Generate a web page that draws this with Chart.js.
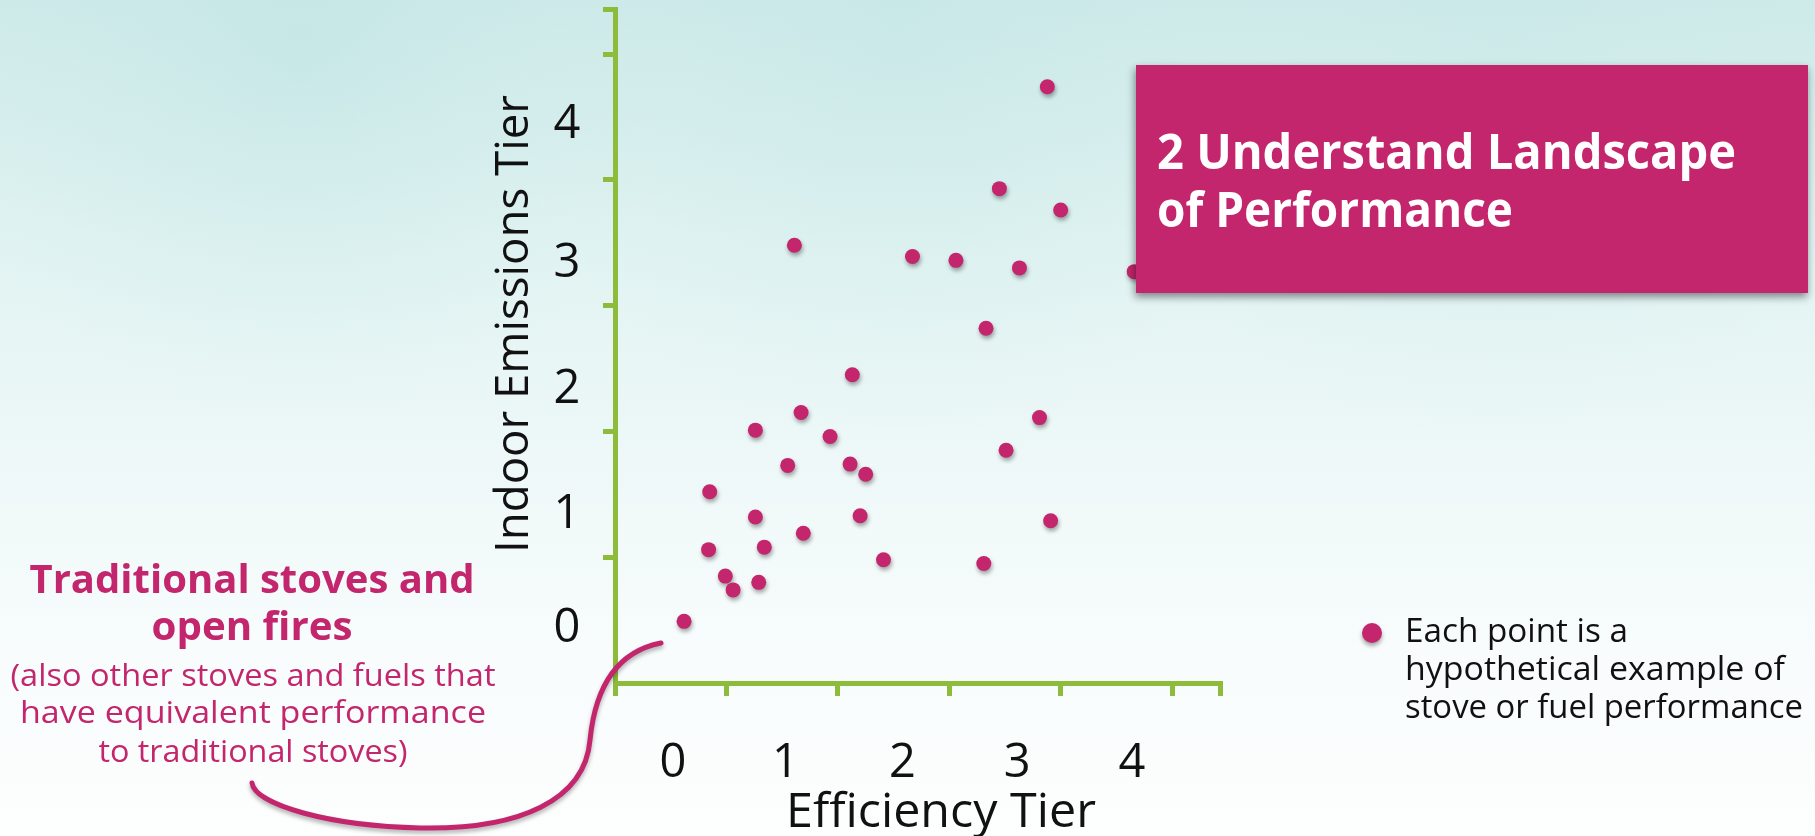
<!DOCTYPE html>
<html>
<head>
<meta charset="utf-8">
<script src="https://cdn.jsdelivr.net/npm/chart.js@4.4.1/dist/chart.umd.min.js"></script>
<style>
  html, body { margin: 0; padding: 0; background: #ffffff; }
  #wrap { width: 1815px; height: 836px; }
  canvas { display: block; }
</style>
</head>
<body>
<div id="wrap"><canvas id="c" width="1815" height="836"></canvas></div>
<script>
// Hypothetical stoves / fuels: efficiency tier (x) vs indoor emissions tier (y)
const efficiency = [3.88, 3.45, 4.00, 1.61, 2.67, 3.06, 3.63, 4.66, 3.33, 2.13,
                    1.67, 3.81, 1.26, 1.93, 3.51, 1.55, 2.11, 2.25, 0.85, 1.26,
                    2.20, 3.91, 1.69, 0.84, 1.34, 2.41, 3.31, 0.99, 1.06, 1.29, 0.62];
const emissions  = [4.74, 3.93, 3.76, 3.48, 3.39, 3.36, 3.30, 3.27, 2.82, 2.45,
                    2.15, 2.11, 2.01, 1.96, 1.85, 1.73, 1.74, 1.66, 1.52, 1.32,
                    1.33, 1.29, 1.19, 1.06, 1.08, 0.98, 0.95, 0.85, 0.74, 0.80, 0.49];

// Tier labels (each tier sits in the band between two tick marks)
const xTierLabels = ['0', '1', '2', '3', '4'];
const yTierLabels = ['0', '1', '2', '3', '4'];

const xTitle = 'Efficiency Tier';
const yTitle = 'Indoor Emissions Tier';
const boxTitle = ['2 Understand Landscape', 'of Performance'];
const calloutBold = ['Traditional stoves and', 'open fires'];
const calloutNote = ['(also other stoves and fuels that', 'have equivalent performance', 'to traditional stoves)'];
const legendText = ['Each point is a', 'hypothetical example of', 'stove or fuel performance'];

const MAGENTA = '#C3266C';
const GREEN = '#8DBB3A';
const FONT = '"Open Sans", "DejaVu Sans", sans-serif';

// draw text stretched horizontally to a given width
function fitText(ctx, text, x, y, width, font, align) {
  ctx.save();
  ctx.font = font;
  ctx.textBaseline = 'alphabetic';
  const w = ctx.measureText(text).width;
  ctx.translate(x, y);
  ctx.scale(width / w, 1);
  ctx.textAlign = align || 'left';
  ctx.fillText(text, 0, 0);
  ctx.restore();
}

const backdrop = {
  id: 'backdrop',
  beforeDraw(chart) {
    const ctx = chart.ctx, W = chart.width, H = chart.height;
    ctx.save();
    const g = ctx.createLinearGradient(0, 0, 0, H);
    g.addColorStop(0, '#cdeae9');
    g.addColorStop(0.28, '#e0f3f2');
    g.addColorStop(0.55, '#eef8f8');
    g.addColorStop(0.78, '#f8fcfc');
    g.addColorStop(1, '#fdfefe');
    ctx.fillStyle = g;
    ctx.fillRect(0, 0, W, H);
    // soft wash blotches
    const blot = (x, y, r, c) => {
      const rg = ctx.createRadialGradient(x, y, 0, x, y, r);
      rg.addColorStop(0, c);
      rg.addColorStop(1, 'rgba(205,234,233,0)');
      ctx.fillStyle = rg;
      ctx.fillRect(x - r, y - r, 2 * r, 2 * r);
    };
    blot(300, 40, 380, 'rgba(190,228,227,0.55)');
    blot(900, 20, 420, 'rgba(195,230,229,0.5)');
    blot(1500, 20, 420, 'rgba(200,232,231,0.45)');
    ctx.restore();
  }
};

const dotShadow = {
  id: 'dotShadow',
  beforeDatasetsDraw(chart) {
    const ctx = chart.ctx;
    ctx.save();
    ctx.shadowColor = 'rgba(0,0,0,0.35)';
    ctx.shadowBlur = 4;
    ctx.shadowOffsetX = 1;
    ctx.shadowOffsetY = 3;
  },
  afterDatasetsDraw(chart) {
    chart.ctx.restore();
  }
};

const decorations = {
  id: 'decorations',
  afterDraw(chart) {
    const ctx = chart.ctx;
    const xs = chart.scales.x, ys = chart.scales.y;

    // tier labels between tick marks
    ctx.save();
    ctx.fillStyle = '#111111';
    ctx.font = '400 47px ' + FONT;
    ctx.textAlign = 'center';
    ctx.textBaseline = 'alphabetic';
    const xAt = [0.52, 1.53, 2.58, 3.61, 4.64];
    xTierLabels.forEach((t, i) => ctx.fillText(t, xs.getPixelForValue(xAt[i]), 777));
    const yAt = [0.46, 1.37, 2.36, 3.36, 4.47];
    yTierLabels.forEach((t, i) => ctx.fillText(t, 567, ys.getPixelForValue(yAt[i]) + 17));

    // axis titles
    fitText(ctx, xTitle, 941, 827, 310, '400 47px ' + FONT, 'center');
    ctx.save();
    ctx.translate(528, 324);
    ctx.rotate(-Math.PI / 2);
    fitText(ctx, yTitle, 0, 0, 458, '400 46px ' + FONT, 'center');
    ctx.restore();
    ctx.restore();

    // title box
    ctx.save();
    ctx.shadowColor = 'rgba(0,0,0,0.45)';
    ctx.shadowBlur = 8;
    ctx.shadowOffsetX = -1;
    ctx.shadowOffsetY = 4;
    ctx.fillStyle = MAGENTA;
    ctx.fillRect(1136, 65, 672, 228);
    ctx.restore();
    ctx.save();
    ctx.fillStyle = '#ffffff';
    fitText(ctx, boxTitle[0], 1157, 169, 579, '700 48px ' + FONT, 'left');
    fitText(ctx, boxTitle[1], 1157, 227, 356, '700 48px ' + FONT, 'left');
    ctx.restore();

    // callout text
    ctx.save();
    ctx.fillStyle = MAGENTA;
    fitText(ctx, calloutBold[0], 252, 593, 445, '700 39px ' + FONT, 'center');
    fitText(ctx, calloutBold[1], 252, 640, 201, '700 39px ' + FONT, 'center');
    const noteW = [485, 466, 309];
    const noteY = [686, 723, 762];
    calloutNote.forEach((t, i) => fitText(ctx, t, 253, noteY[i], noteW[i], '400 31px ' + FONT, 'center'));
    ctx.restore();

    // callout curve
    ctx.save();
    ctx.shadowColor = 'rgba(0,0,0,0.3)';
    ctx.shadowBlur = 4;
    ctx.shadowOffsetY = 3;
    ctx.strokeStyle = MAGENTA;
    ctx.lineWidth = 5;
    ctx.lineCap = 'round';
    ctx.beginPath();
    ctx.moveTo(661, 643);
    ctx.bezierCurveTo(615, 652, 595, 690, 590, 740);
    ctx.bezierCurveTo(585, 800, 520, 830, 420, 828);
    ctx.bezierCurveTo(330, 826, 255, 805, 252, 783);
    ctx.stroke();
    ctx.restore();

    // legend
    ctx.save();
    ctx.shadowColor = 'rgba(0,0,0,0.35)';
    ctx.shadowBlur = 4;
    ctx.shadowOffsetY = 3;
    ctx.fillStyle = MAGENTA;
    ctx.beginPath();
    ctx.arc(1372, 633, 10, 0, Math.PI * 2);
    ctx.fill();
    ctx.restore();
    ctx.save();
    ctx.fillStyle = '#111111';
    const legW = [223, 380, 398];
    const legY = [642, 680, 718];
    legendText.forEach((t, i) => fitText(ctx, t, 1405, legY[i], legW[i], '400 32px ' + FONT, 'left'));
    ctx.restore();
  }
};

const tickColor = c => (c.tick && c.tick.value === 0) ? 'rgba(0,0,0,0)' : GREEN;

new Chart(document.getElementById('c'), {
  type: 'scatter',
  data: {
    datasets: [{
      data: efficiency.map((x, i) => ({ x, y: emissions[i] })),
      backgroundColor: MAGENTA,
      borderWidth: 0,
      pointRadius: 7.5,
      pointHoverRadius: 7.5
    }]
  },
  options: {
    responsive: false,
    animation: false,
    devicePixelRatio: 1,
    layout: { padding: { left: 615, right: 595, top: 9, bottom: 153 } },
    plugins: { legend: { display: false }, tooltip: { enabled: false } },
    events: [],
    scales: {
      x: {
        type: 'linear', min: 0, max: 5.43,
        afterFit: s => { s.height = 0; },
        ticks: { stepSize: 1, display: false },
        grid: { display: true, drawOnChartArea: false, drawTicks: true, tickLength: 13,
                tickWidth: 5, tickColor: GREEN, color: GREEN, lineWidth: 5 },
        border: { display: true, color: GREEN, width: 5 }
      },
      y: {
        type: 'linear', min: 0, max: 5.358,
        afterFit: s => { s.width = 0; },
        ticks: { stepSize: 1, display: false },
        grid: { display: true, drawOnChartArea: false, drawTicks: true, tickLength: 12,
                tickWidth: 5, tickColor: tickColor, color: GREEN, lineWidth: 5 },
        border: { display: true, color: GREEN, width: 5 }
      }
    }
  },
  plugins: [backdrop, dotShadow, decorations]
});
</script>
</body>
</html>
